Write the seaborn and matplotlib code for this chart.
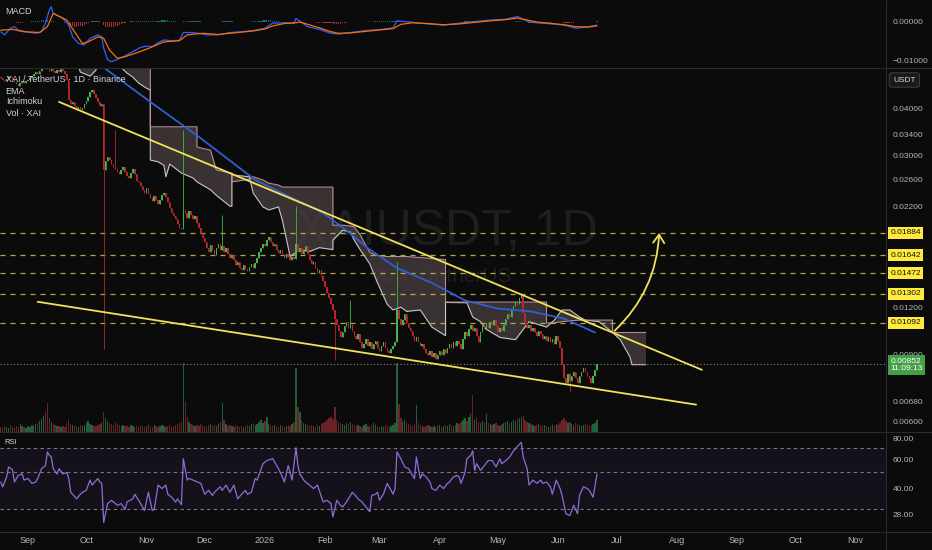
import pandas as pd
import matplotlib
matplotlib.use('Agg')
import matplotlib.pyplot as plt
import matplotlib.dates as mdates
import matplotlib.transforms as mtransforms
from matplotlib.lines import Line2D
from matplotlib.patches import FancyArrowPatch
from matplotlib.ticker import NullLocator, FuncFormatter
import seaborn as sns

# ---- data (XAI/USDT daily, Binance) ----
first_day = '2025-08-18'
first_open = 0.0482
closes = [
    0.0480, 0.0475, 0.0470, 0.0478, 0.0485, 0.0482, 0.0476, 0.0468, 0.0462, 0.0458, 0.0465, 0.0470, 0.0466, 0.0470,
    0.0475, 0.0480, 0.0486, 0.0490, 0.0497, 0.0490, 0.0500, 0.0510, 0.0520, 0.0515, 0.0505, 0.0500, 0.0508, 0.0500,
    0.0495, 0.0502, 0.0498, 0.0505, 0.0500, 0.0492, 0.0475, 0.0420, 0.0410, 0.0415, 0.0405, 0.0398, 0.0402, 0.0395,
    0.0400, 0.0410, 0.0418, 0.0428, 0.0440, 0.0446, 0.0436, 0.0425, 0.0415, 0.0405, 0.0410, 0.0275, 0.0290, 0.0298,
    0.0292, 0.0285, 0.0280, 0.0276, 0.0272, 0.0268, 0.0275, 0.0280, 0.0272, 0.0266, 0.0262, 0.0270, 0.0276, 0.0268,
    0.0258, 0.0255, 0.0250, 0.0244, 0.0240, 0.0246, 0.0238, 0.0232, 0.0228, 0.0235, 0.0230, 0.0224, 0.0230, 0.0236,
    0.0240, 0.0233, 0.0226, 0.0218, 0.0212, 0.0208, 0.0204, 0.0198, 0.0194, 0.0192, 0.0215, 0.0212, 0.0206, 0.0214,
    0.0210, 0.0205, 0.0208, 0.0200, 0.0194, 0.0188, 0.0182, 0.0178, 0.0172, 0.0168, 0.0175, 0.0170, 0.0165, 0.0172,
    0.0176, 0.0170, 0.0174, 0.0168, 0.0172, 0.0166, 0.0162, 0.0165, 0.0160, 0.0155, 0.0158, 0.0152, 0.0150, 0.0155,
    0.0151, 0.0149, 0.0153, 0.0156, 0.0152, 0.0157, 0.0162, 0.0168, 0.0172, 0.0176, 0.0174, 0.0180, 0.0183, 0.0178,
    0.0174, 0.0176, 0.0170, 0.0167, 0.0170, 0.0165, 0.0162, 0.0166, 0.0163, 0.0160, 0.0163, 0.0161, 0.0176, 0.0168,
    0.0172, 0.0166, 0.0170, 0.0174, 0.0166, 0.0160, 0.0156, 0.0158, 0.0152, 0.0148, 0.0150, 0.0145, 0.0141, 0.0136,
    0.0131, 0.0127, 0.0122, 0.0118, 0.0112, 0.0108, 0.0104, 0.0100, 0.0103, 0.0107, 0.0110, 0.0106, 0.0108, 0.0104,
    0.0101, 0.0099, 0.0102, 0.0097, 0.0094, 0.0096, 0.0099, 0.0095, 0.0097, 0.0093, 0.0096, 0.0098, 0.0094, 0.0092,
    0.0095, 0.0097, 0.0094, 0.0092, 0.0091, 0.0093, 0.0095, 0.0097, 0.0118, 0.0112, 0.0108, 0.0111, 0.0115, 0.0109,
    0.0106, 0.0104, 0.0101, 0.0098, 0.0100, 0.0097, 0.0095, 0.0096, 0.0093, 0.0091, 0.0090, 0.0092, 0.0089, 0.0091,
    0.0088, 0.0090, 0.0092, 0.0090, 0.0093, 0.0091, 0.0094, 0.0096, 0.0094, 0.0097, 0.0095, 0.0098, 0.0096, 0.0093,
    0.0099, 0.0103, 0.0101, 0.0105, 0.0108, 0.0104, 0.0106, 0.0101, 0.0097, 0.0103, 0.0107, 0.0105, 0.0109, 0.0106,
    0.0110, 0.0108, 0.0111, 0.0107, 0.0103, 0.0106, 0.0104, 0.0108, 0.0112, 0.0115, 0.0113, 0.0118, 0.0121, 0.0124,
    0.0122, 0.0127, 0.0130, 0.0116, 0.0110, 0.0106, 0.0108, 0.0104, 0.0106, 0.0103, 0.0101, 0.0104, 0.0102, 0.0099,
    0.0101, 0.0098, 0.0100, 0.0097, 0.0099, 0.0096, 0.0101, 0.0098, 0.0094, 0.0085, 0.0078, 0.0076, 0.0080, 0.0077,
    0.0079, 0.0081, 0.0078, 0.0076, 0.0079, 0.0081, 0.0083, 0.0081, 0.0079, 0.0078, 0.0076, 0.0079, 0.0082, 0.00852,
]
wick_highs = {'2025-10-16': 0.0350, '2025-11-20': 0.0350, '2025-12-10': 0.0209,
              '2026-01-17': 0.0221, '2026-02-14': 0.0125, '2026-03-10': 0.0158}
wick_lows = {'2025-10-10': 0.0093, '2026-02-06': 0.0087, '2026-06-07': 0.0072}
volume = [
    5, 4, 6, 5, 4, 7, 5, 4, 6, 5, 8, 6, 5, 4,
    6, 5, 7, 6, 8, 9, 11, 13, 16, 20, 29, 14, 10, 8,
    7, 6, 6, 5, 6, 5, 9, 12, 8, 7, 6, 6, 5, 7,
    6, 7, 9, 11, 8, 7, 6, 6, 7, 8, 9, 20, 14, 11,
    9, 8, 7, 10, 8, 7, 6, 7, 6, 6, 5, 7, 6, 5,
    6, 5, 7, 6, 5, 6, 8, 6, 5, 7, 6, 5, 6, 7,
    6, 5, 6, 7, 5, 6, 7, 8, 9, 10, 69, 30, 15, 10,
    8, 7, 6, 7, 6, 8, 7, 6, 5, 7, 8, 6, 7, 6,
    8, 10, 29, 12, 8, 6, 7, 6, 5, 7, 6, 5, 6, 5,
    6, 7, 6, 8, 9, 7, 8, 10, 12, 9, 11, 15, 8, 7,
    6, 7, 6, 5, 7, 6, 5, 6, 7, 6, 8, 10, 64, 25,
    20, 12, 9, 8, 7, 6, 7, 6, 5, 7, 6, 8, 9, 10,
    12, 14, 15, 13, 25, 12, 10, 9, 8, 7, 9, 8, 10, 8,
    7, 6, 7, 6, 5, 7, 8, 6, 5, 7, 9, 7, 6, 5,
    6, 5, 7, 6, 5, 6, 7, 9, 69, 28, 14, 10, 12, 9,
    8, 7, 6, 8, 27, 9, 7, 6, 5, 6, 7, 6, 5, 6,
    5, 6, 7, 5, 6, 7, 6, 8, 7, 6, 7, 9, 8, 10,
    12, 14, 11, 15, 18, 37, 12, 15, 10, 9, 11, 10, 18, 9,
    8, 7, 8, 9, 7, 6, 8, 9, 10, 11, 9, 10, 12, 11,
    13, 14, 15, 16, 12, 10, 9, 8, 7, 6, 7, 8, 7, 6,
    7, 6, 5, 6, 7, 6, 8, 7, 9, 12, 14, 11, 9, 10,
    8, 7, 9, 8, 7, 6, 7, 8, 7, 6, 7, 8, 9, 12,
]

ema_dates = ['2025-10-03', '2025-10-10', '2025-11-03', '2025-11-28', '2025-12-27', '2026-01-19',
             '2026-01-31', '2026-02-12', '2026-02-24', '2026-03-10', '2026-03-28', '2026-04-14',
             '2026-05-01', '2026-05-18', '2026-06-04', '2026-06-20']
ema_values = [0.0546, 0.0511, 0.0415, 0.0336, 0.0259, 0.0227, 0.0212, 0.0191, 0.0170, 0.0152,
              0.0139, 0.0125, 0.0119, 0.0117, 0.0112, 0.0103]

cloud_dates = ['2025-08-17', '2025-09-25', '2025-09-28', '2025-10-03', '2025-10-06', '2025-10-08',
               '2025-10-16', '2025-10-22', '2025-10-25', '2025-10-28', '2025-11-01', '2025-11-03',
               '2025-11-03', '2025-11-07', '2025-11-10', '2025-11-11', '2025-11-13', '2025-11-19',
               '2025-11-25', '2025-11-27', '2025-11-27', '2025-12-04', '2025-12-07', '2025-12-14',
               '2025-12-15', '2025-12-15', '2025-12-24', '2025-12-26', '2025-12-31', '2026-01-03',
               '2026-01-08', '2026-01-10', '2026-01-14', '2026-01-19', '2026-01-24', '2026-01-29',
               '2026-02-05', '2026-02-05', '2026-02-10', '2026-02-14', '2026-02-16', '2026-02-19',
               '2026-02-24', '2026-02-28', '2026-03-05', '2026-03-08', '2026-03-12', '2026-03-15',
               '2026-03-22', '2026-03-28', '2026-04-04', '2026-04-04', '2026-04-15', '2026-04-18',
               '2026-04-22', '2026-04-25', '2026-05-02', '2026-05-10', '2026-05-17', '2026-05-26',
               '2026-05-26', '2026-05-30', '2026-06-03', '2026-06-07', '2026-06-12', '2026-06-15',
               '2026-06-22', '2026-06-29', '2026-06-29', '2026-07-03', '2026-07-08', '2026-07-09',
               '2026-07-16']
span_a = [0.0551, 0.0551, 0.0497, 0.0485, 0.0503, 0.0551,
          0.0528, 0.0494, 0.0482, 0.0465, 0.0451, 0.0446,
          0.0292, 0.0289, 0.0283, 0.0264, 0.0285, 0.0270,
          0.0262, 0.0256, 0.0256, 0.0244, 0.0236, 0.0221,
          0.0221, 0.0267, 0.0264, 0.0239, 0.0220, 0.0216,
          0.0220, 0.0203, 0.0163, 0.0170, 0.0168, 0.0172,
          0.0170, 0.0180, 0.0191, 0.0189, 0.0180, 0.0170,
          0.0156, 0.0139, 0.0122, 0.0118, 0.0120, 0.0117,
          0.0118, 0.01064, 0.0101, 0.01235, 0.01233, 0.01131,
          0.0110, 0.0105, 0.0100, 0.00986, 0.0110, 0.01064,
          0.01064, 0.0111, 0.0118, 0.0118, 0.01131, 0.0111,
          0.0110, 0.0103, 0.0103, 0.00986, 0.00888, 0.00848,
          0.00848]
span_b = [0.0568, 0.0568, 0.0568, 0.0568, 0.0568, 0.0568,
          0.0568, 0.0568, 0.0568, 0.0568, 0.0568, 0.0568,
          0.0357, 0.0357, 0.0357, 0.0357, 0.0357, 0.0357,
          0.0357, 0.0357, 0.0316, 0.0310, 0.0275, 0.0270,
          0.0270, 0.0256, 0.0260, 0.0264, 0.0259, 0.0254,
          0.0251, 0.0248, 0.0248, 0.0248, 0.0248, 0.0248,
          0.0248, 0.0197, 0.0197, 0.0196, 0.0195, 0.0186,
          0.0167, 0.0164, 0.0163, 0.0163, 0.0163, 0.0163,
          0.0162, 0.0161, 0.0160, 0.01238, 0.01238, 0.01238,
          0.01238, 0.01238, 0.01238, 0.01238, 0.01238, 0.01238,
          0.01092, 0.01092, 0.0110, 0.01105, 0.0111, 0.0111,
          0.0111, 0.0111, 0.0103, 0.0103, 0.0103, 0.0103,
          0.0103]

rsi_candles = [0, 1, 3, 4, 6, 7, 9, 11, 12, 14, 16, 18, 19, 21, 23, 24, 25, 26, 27, 29, 30, 32, 34, 35,
               36, 37, 39, 41, 42, 44, 46, 47, 50, 51, 52, 53, 55, 57, 59, 60, 62, 64, 65, 68, 69, 71,
               73, 74, 76, 78, 79, 81, 83, 85, 86, 88, 90, 91, 93, 94, 96, 97, 99, 103, 105, 107, 109,
               110, 113, 114, 116, 118, 120, 122, 124, 126, 127, 129, 131, 132, 135, 137, 140, 141,
               143, 145, 146, 148, 150, 152, 153, 154, 156, 157, 159, 161, 163, 164, 166, 168, 170,
               171, 173, 175, 176, 178, 181, 182, 184, 186, 188, 190, 191, 193, 194, 195, 197, 199,
               200, 202, 203, 204, 206, 208, 210, 212, 213, 214, 216, 217, 219, 221, 222, 224, 226,
               228, 230, 231, 233, 235, 236, 237, 239, 240, 242, 243, 244, 245, 247, 249, 251, 253,
               255, 257, 258, 260, 262, 264, 268, 269, 271, 272, 274, 276, 278, 279, 281, 283, 284,
               286, 288, 289, 291, 293, 295, 297, 298, 300, 302, 303, 305, 307]
rsi_values = [43.8, 41.0, 47.0, 54.0, 52.0, 43.8, 48.0, 49.0, 45.0, 46.0, 43.0, 43.8, 46.0, 52.7, 55.0,
              66.5, 63.5, 62.0, 52.7, 49.0, 52.7, 49.0, 50.0, 46.0, 38.0, 37.0, 34.7, 37.0, 38.0, 39.0,
              45.0, 42.0, 46.0, 43.8, 43.0, 25.0, 32.5, 34.0, 32.5, 31.7, 32.5, 30.0, 33.2, 34.7, 37.0,
              34.0, 31.0, 29.5, 38.0, 29.5, 30.0, 42.0, 40.0, 42.0, 37.0, 35.5, 33.2, 34.7, 32.0, 60.5,
              45.0, 46.0, 45.0, 43.0, 37.0, 39.0, 36.4, 38.0, 41.0, 39.0, 42.0, 38.0, 42.0, 34.7, 37.0,
              39.0, 37.0, 38.0, 46.0, 45.0, 56.5, 59.0, 60.5, 57.8, 52.7, 47.0, 43.8, 55.0, 45.0, 70.5,
              55.0, 49.0, 45.0, 43.8, 42.0, 40.0, 42.0, 39.0, 33.2, 34.0, 32.5, 27.0, 34.0, 31.7, 31.0,
              33.2, 38.0, 37.0, 34.7, 33.2, 31.0, 29.0, 36.4, 37.0, 38.0, 34.0, 37.0, 43.0, 41.0, 37.0,
              40.0, 66.5, 60.5, 54.0, 52.7, 48.0, 46.0, 62.0, 46.0, 49.0, 47.0, 43.8, 40.0, 39.0, 42.0,
              40.0, 43.0, 43.8, 47.0, 48.0, 47.0, 43.0, 50.0, 60.5, 63.5, 67.5, 51.5, 56.5, 51.5, 55.0,
              59.0, 59.0, 54.0, 60.5, 56.5, 59.0, 62.0, 67.5, 76.0, 62.0, 52.7, 42.0, 45.0, 43.0, 45.0,
              43.0, 43.8, 41.0, 37.0, 45.0, 40.0, 36.4, 28.2, 27.5, 31.7, 28.2, 36.4, 41.0, 40.0, 39.0,
              35.5, 49.0]
macd_candles = [0, 2, 5, 7, 9, 13, 18, 21, 23, 25, 26, 27, 32, 35, 37, 40, 43, 46, 50, 52, 53, 55, 57,
                60, 64, 68, 72, 75, 78, 81, 84, 88, 92, 94, 98, 102, 106, 112, 118, 124, 130, 136, 140,
                146, 151, 152, 154, 158, 164, 170, 174, 180, 188, 196, 202, 204, 212, 220, 228, 236, 242,
                252, 260, 266, 272, 276, 284, 290, 296, 302, 307]
macd_values = [-0.0025, -0.0033, -0.0016, -0.0012, -0.0021, -0.0025, -0.0029, -0.0025, -0.0003, 0.0031,
               0.0039, 0.0022, 0.0009, -0.0008, -0.0038, -0.0055, -0.0059, -0.0042, -0.0033, -0.0038,
               -0.0067, -0.0097, -0.0102, -0.0096, -0.0087, -0.0076, -0.0065, -0.0062, -0.0063, -0.0053,
               -0.0046, -0.0048, -0.0047, -0.0027, -0.0027, -0.0029, -0.0033, -0.0033, -0.0027, -0.0025,
               -0.0022, -0.0016, -0.0003, -0.0002, -0.0003, 0.0009, 0.0002, -0.0012, -0.0019, -0.0029,
               -0.0031, -0.0027, -0.0022, -0.0019, -0.0015, 0.0003, -0.0001, -0.0005, -0.0008, -0.0003,
               0.0, 0.0005, 0.0007, 0.0014, 0.0, -0.0002, -0.0005, -0.0008, -0.0016, -0.0013, -0.0008]
signal_candles = [0, 6, 12, 20, 24, 27, 34, 38, 42, 45, 50, 53, 56, 60, 64, 70, 76, 84, 92, 96, 104,
                  112, 118, 124, 130, 136, 140, 146, 152, 154, 158, 164, 170, 174, 180, 188, 196, 202,
                  206, 212, 220, 228, 236, 242, 252, 260, 266, 272, 276, 284, 290, 296, 302, 307]
signal_values = [-0.0021, -0.0019, -0.0025, -0.0027, -0.0012, 0.0022, 0.0005, -0.0025, -0.0055, -0.0051,
                 -0.0038, -0.0042, -0.0072, -0.0093, -0.0089, -0.0079, -0.0068, -0.0051, -0.0048, -0.0033,
                 -0.0029, -0.0032, -0.0029, -0.0026, -0.0023, -0.0018, -0.0010, -0.0004, -0.0002, 0.0,
                 -0.0006, -0.0015, -0.0025, -0.0029, -0.0028, -0.0024, -0.0020, -0.0017, -0.0006, -0.0002,
                 -0.0004, -0.0007, -0.0005, -0.0002, 0.0003, 0.0006, 0.0010, 0.0004, 0.0, -0.0004,
                 -0.0007, -0.0012, -0.0013, -0.0010]

levels = [0.01884, 0.01642, 0.01472, 0.01302, 0.01092]
last_price = 0.00852
countdown = '11:09:13'

upper_trend_dates = ['2025-09-17', '2026-08-14']
upper_trend_prices = [0.0415, 0.00822]
lower_trend_dates = ['2025-09-06', '2026-08-11']
lower_trend_prices = [0.0124, 0.00666]
arrow_dates = ['2026-06-30', '2026-07-23']
arrow_prices = [0.0104, 0.0188]

price_ticks = [0.04, 0.034, 0.03, 0.026, 0.022, 0.012, 0.009, 0.0068, 0.006]
rsi_ticks = [80, 60, 40, 28]
rsi_levels = [70, 50, 30]
macd_ticks = [0.0, -0.01]
macd_labels = ['0.00000', '\u22120.01000']

# ---- colours ----
BG = '#0b0b0b'
TXT = '#b2b5be'
SEP = '#2b2b2b'
UP = '#43b548'
DOWN = '#b8262f'
YEL = '#f2e15a'

sns.set_theme(style='dark', rc={'axes.facecolor': BG, 'figure.facecolor': BG, 'axes.grid': False})
plt.rcParams['font.family'] = ['Liberation Sans', 'DejaVu Sans']

# ---- candles ----
df = pd.DataFrame({'date': pd.date_range(first_day, periods=len(closes), freq='D'),
                   'close': closes, 'volume': volume})
df['open'] = df['close'].shift(1).fillna(first_open)
df['high'] = df[['open', 'close']].max(axis=1)
df['low'] = df[['open', 'close']].min(axis=1)
for day, value in wick_highs.items():
    df.loc[df['date'] == pd.Timestamp(day), 'high'] = value
for day, value in wick_lows.items():
    df.loc[df['date'] == pd.Timestamp(day), 'low'] = value
df['up'] = df['close'] >= df['open']
colors = df['up'].map({True: UP, False: DOWN})

# histogram from the candle closes
ema12 = df['close'].ewm(span=12, adjust=False).mean()
ema26 = df['close'].ewm(span=26, adjust=False).mean()
macd_calc = ema12 - ema26
df['hist'] = macd_calc - macd_calc.ewm(span=9, adjust=False).mean()

rsi = pd.DataFrame({'date': df['date'].iloc[rsi_candles].values, 'rsi': rsi_values})
macd = pd.DataFrame({'date': df['date'].iloc[macd_candles].values, 'macd': macd_values})
signal = pd.DataFrame({'date': df['date'].iloc[signal_candles].values, 'signal': signal_values})

# ---- layout ----
fig = plt.figure(figsize=(9.32, 5.5), dpi=100)
W = 886 / 932
ax_macd = fig.add_axes([0, 1 - 68 / 550, W, 68 / 550])
ax = fig.add_axes([0, 1 - 432 / 550, W, 364 / 550], sharex=ax_macd)
ax_rsi = fig.add_axes([0, 1 - 532 / 550, W, 100 / 550], sharex=ax_macd)
ax_vol = ax.twinx()
ax.set_zorder(ax_vol.get_zorder() + 1)
ax.patch.set_visible(False)
ax_vol.set_facecolor(BG)

# volume
vol_colors = df['up'].map({True: '#2e7d4f', False: '#8a2a30'})
ax_vol.bar(df['date'], df['volume'], width=0.7, color=vol_colors, alpha=0.75, linewidth=0)
ax_vol.set_ylim(0, df['volume'].max() * 364 / 69)
ax_vol.yaxis.set_visible(False)

# ichimoku cloud
cd = pd.to_datetime(cloud_dates)
ax.fill_between(cd, span_a, span_b, color='#4a4040', alpha=0.75, linewidth=0, zorder=1)
ax.plot(cd, span_a, color='#c8c8c8', lw=0.8, zorder=2)
ax.plot(cd, span_b, color='#b98d90', lw=0.8, zorder=2)

# candles
body_low = df[['open', 'close']].min(axis=1)
body_h = (df['close'] - df['open']).abs().clip(lower=df['close'] * 0.006)
ax.vlines(df['date'], df['low'], df['high'], colors=colors, lw=0.6, zorder=3)
ax.bar(df['date'], body_h, bottom=body_low, width=0.75, color=colors, linewidth=0, zorder=3)

# EMA
sns.lineplot(x=pd.to_datetime(ema_dates), y=ema_values, ax=ax, color='#2f5fd0', lw=1.3, zorder=4)

# levels and price line
for lvl in levels:
    ax.axhline(lvl, color='#c9c45a', ls=(0, (4, 4)), lw=0.9, alpha=0.85, zorder=2)
ax.axhline(last_price, color='#8a8a8a', ls=(0, (1, 2)), lw=0.8, zorder=2)

# trendlines and arrow
ax.plot(pd.to_datetime(upper_trend_dates), upper_trend_prices, color=YEL, lw=1.3, zorder=5)
ax.plot(pd.to_datetime(lower_trend_dates), lower_trend_prices, color=YEL, lw=1.3, zorder=5)
arrow = FancyArrowPatch(posA=(mdates.date2num(pd.Timestamp(arrow_dates[0])), arrow_prices[0]),
                        posB=(mdates.date2num(pd.Timestamp(arrow_dates[1])), arrow_prices[1]),
                        connectionstyle='arc3,rad=0.2', arrowstyle='->,head_length=0.6,head_width=0.4',
                        mutation_scale=10, color=YEL, lw=1.3, shrinkA=0, shrinkB=0, zorder=6)
ax.add_patch(arrow)

ax.set_yscale('log')
ax.set_ylim(0.005645, 0.05094)
ax.set_yticks(price_ticks)
ax.set_yticklabels([f'{t:.5f}' for t in price_ticks])
ax.yaxis.set_minor_locator(NullLocator())

# MACD
hist_colors = ['#26a69a' if h >= 0 else '#ff5252' for h in df['hist']]
ax_macd.bar(df['date'], df['hist'], width=0.65, color=hist_colors, alpha=0.6, linewidth=0)
sns.lineplot(data=macd, x='date', y='macd', ax=ax_macd, color='#2962ff', lw=0.9)
sns.lineplot(data=signal, x='date', y='signal', ax=ax_macd, color='#ff6d00', lw=0.9)
ax_macd.set_ylim(-0.0118, 0.00564)
ax_macd.set_yticks(macd_ticks)
ax_macd.set_yticklabels(macd_labels)

# RSI
ax_rsi.axhspan(rsi_levels[-1], rsi_levels[0], color='#7e57c2', alpha=0.09, lw=0)
for lvl in rsi_levels:
    ax_rsi.axhline(lvl, color='#787b86', ls=(0, (3, 3)), lw=0.8)
sns.lineplot(data=rsi, x='date', y='rsi', ax=ax_rsi, color='#8a6fd6', lw=0.9)
ax_rsi.set_yscale('log')
ax_rsi.set_ylim(21.9, 87.7)
ax_rsi.set_yticks(rsi_ticks)
ax_rsi.set_yticklabels([f'{t:.2f}' for t in rsi_ticks])
ax_rsi.yaxis.set_minor_locator(NullLocator())

for a in (ax_macd, ax, ax_rsi):
    a.set_xlabel('')
    a.set_ylabel('')

# shared x axis
start = pd.Timestamp('2025-09-01')
ax_macd.set_xlim(start - pd.Timedelta(days=14.4), start + pd.Timedelta(days=441.8))
ax_rsi.xaxis.set_major_locator(mdates.MonthLocator())
ax_rsi.xaxis.set_major_formatter(FuncFormatter(
    lambda x, pos: str(mdates.num2date(x).year) if mdates.num2date(x).month == 1
    else mdates.num2date(x).strftime('%b')))

for a in (ax_macd, ax, ax_rsi, ax_vol):
    for s in a.spines.values():
        s.set_visible(False)
for a in (ax_macd, ax, ax_rsi):
    a.yaxis.tick_right()
    a.tick_params(axis='y', which='both', colors=TXT, labelsize=6, length=0, pad=5)
    a.tick_params(axis='x', length=0)
ax_macd.tick_params(axis='x', labelbottom=False)
ax.tick_params(axis='x', labelbottom=False)
ax_rsi.tick_params(axis='x', colors=TXT, labelsize=6.5, pad=3)

# separators
for yp in (68, 432, 532):
    fig.add_artist(Line2D([0, 1], [1 - yp / 550] * 2, transform=fig.transFigure, color=SEP, lw=0.8))
fig.add_artist(Line2D([W, W], [0, 1], transform=fig.transFigure, color=SEP, lw=0.8))

# right-axis labels
trans = mtransforms.blended_transform_factory(ax.transAxes, ax.transData)
for lvl in levels:
    ax.text(1.005, lvl, f'{lvl:.5f}', transform=trans, ha='left', va='center', fontsize=6,
            color='#111111', clip_on=False, zorder=10,
            bbox=dict(boxstyle='square,pad=0.3', fc='#ffeb3b', ec='none'))
ax.annotate(f'{last_price:.5f}\n{countdown}', xy=(1.005, last_price), xycoords=trans,
            xytext=(0, 4.5), textcoords='offset points', ha='left', va='top', fontsize=6,
            color='white', linespacing=1.1, annotation_clip=False, zorder=10,
            bbox=dict(boxstyle='square,pad=0.3', fc='#43a047', ec='none'))
ax.text(1.008, (432 - 80) / 364, 'USDT', transform=ax.transAxes, ha='left', va='center', fontsize=6,
        color='#d1d4dc', clip_on=False,
        bbox=dict(boxstyle='round,pad=0.45,rounding_size=0.3', fc='#1a1a1a', ec='#3a3a3a', lw=0.8))

# legends
legend_lines = [('XAI / TetherUS \u00b7 1D \u00b7 Binance', 80), ('EMA', 91), ('Ichimoku', 102), ('Vol \u00b7 XAI', 113)]
for txt, yp in legend_lines:
    ax.text(5.7 / 886, (432 - yp) / 364, txt, transform=ax.transAxes, ha='left', va='center',
            fontsize=6.5, color='#d1d4dc', zorder=10)
ax_macd.text(5.7 / 886, (68 - 11) / 68, 'MACD', transform=ax_macd.transAxes, ha='left', va='center',
             fontsize=6.5, color='#d1d4dc')
ax_rsi.text(4 / 886, (532 - 443) / 100, 'RSI', transform=ax_rsi.transAxes, ha='left', va='center',
            fontsize=5.5, color='#d1d4dc')

# watermark
ax.text(446 / 886, (432 - 233) / 364, 'XAIUSDT, 1D', transform=ax.transAxes, ha='center', va='center',
        fontsize=36, color='white', alpha=0.08, zorder=0)
ax.text(443 / 886, (432 - 277) / 364, 'XAI / TetherUS', transform=ax.transAxes, ha='center', va='center',
        fontsize=15, color='white', alpha=0.08, zorder=0)

fig.savefig('out.png', dpi=100, facecolor=BG)
